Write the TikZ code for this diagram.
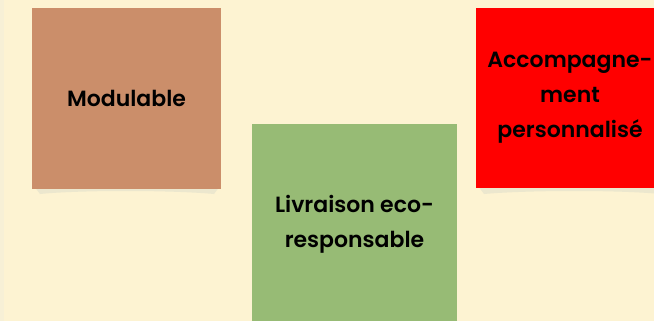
\documentclass[tikz,border=0pt]{standalone}
\usepackage{fontspec}
\setmainfont{Poppins}[BoldFont={* SemiBold}]
\definecolor{bgc}{RGB}{253,243,210}
\definecolor{edgec}{RGB}{247,240,214}
\definecolor{shadowc}{RGB}{236,231,206}
\definecolor{brownc}{RGB}{203,142,106}
\definecolor{greenc}{RGB}{151,187,117}
\definecolor{redc}{RGB}{255,0,0}
\tikzset{
  note/.style={rectangle, inner sep=0pt, outer sep=0pt, align=center, text=black,
    font=\bfseries\fontsize{22}{35}\selectfont},
}
\begin{document}
\begin{tikzpicture}[x=1pt,y=-1pt]
\fill[bgc] (0,0) rectangle (654,321);
\fill[edgec] (0,0) rectangle (4,321);
\useasboundingbox (0,0) rectangle (654,321);
% shadows
\fill[shadowc] (34,186) -- (220,186) -- (214,194) .. controls (170,190) and (80,190) .. (40,194) -- cycle;
\fill[shadowc] (478,186) -- (660,186) -- (660,194) .. controls (620,190) and (530,190) .. (484,194) -- cycle;
% notes
\node[note, fill=brownc, minimum width=189, minimum height=180] (mod) at (126.5,98.5) {Modulable};
\node[note, fill=greenc, minimum width=205, minimum height=200] (liv) at (354.5,224) {Livraison eco-\\responsable};
\node[note, fill=redc, minimum width=188, minimum height=180] (acc) at (570,98) {Accompagne-\\ment\\personnalisé};
\end{tikzpicture}
\end{document}
